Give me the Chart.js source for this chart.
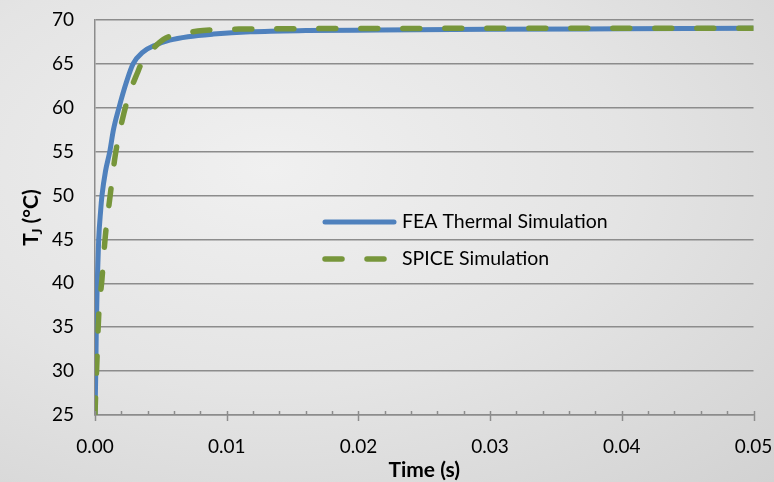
<!DOCTYPE html>
<html>
<head>
<meta charset="utf-8">
<script src="https://cdn.jsdelivr.net/npm/chart.js@4.4.1/dist/chart.umd.min.js"></script>
<style>
  html, body { margin: 0; padding: 0; }
  body {
    width: 774px; height: 482px; overflow: hidden;
    background: radial-gradient(ellipse farthest-corner at 35% 35%, #f0f0f0 0%, #e4e4e4 50%, #d2d2d2 100%);
  }
  #wrap { position: relative; width: 774px; height: 482px; }
</style>
</head>
<body>
<div id="wrap"><canvas id="chart"></canvas></div>
<script>
  // values (time in s, temperature in °C)
  const feaTime = [0, 0.00006, 0.0001, 0.00017, 0.00028, 0.00043, 0.00053, 0.0008, 0.00112, 0.0014, 0.00182, 0.00238, 0.00289, 0.00364, 0.00453, 0.00567, 0.00706, 0.009, 0.0118, 0.016, 0.0216, 0.03, 0.04, 0.05];
  const feaTemp = [25, 30, 35, 40, 45, 48.3, 50, 52.8, 55, 57.5, 60, 62.9, 65, 66.35, 67.1, 67.7, 68.1, 68.4, 68.66, 68.8, 68.86, 68.95, 69.0, 69.05];

  const spiceTime = [0, 0.00003, 0.00015, 0.00028, 0.00053, 0.00078, 0.00116, 0.00154, 0.0021, 0.00265, 0.0032, 0.0036, 0.0042, 0.0052, 0.0065, 0.0082, 0.0114, 0.02, 0.03, 0.05];
  const spiceTemp = [25, 26.5, 31.3, 36.3, 40.5, 45.3, 50.1, 54.6, 58.8, 61.8, 63.9, 65.3, 66.4, 67.8, 68.4, 68.8, 68.97, 69.03, 69.05, 69.05];

  const seriesNames = ["FEA Thermal Simulation", "SPICE Simulation"];
  const xMajor = [0, 0.01, 0.02, 0.03, 0.04, 0.05];
  const yTicks = [25, 30, 35, 40, 45, 50, 55, 60, 65, 70];

  const FONT = "Lato, 'Open Sans', sans-serif";
  const AXIS_GRAY = "#8c8c8c";
  const BLUE = "#4f81bd";
  const GREEN = "#77963b";

  function pts(xs, ys) { return xs.map((x, i) => ({ x: x, y: ys[i] })); }
  function isMajor(v) { return xMajor.some(m => Math.abs(m - v) < 1e-7); }

  /* ========= tick marks on the time axis (major cross, minor inside) ========= */
  const xTickMarks = {
    id: "xTickMarks",
    afterDraw(chart) {
      const sx = chart.scales.x;
      const ctx = chart.ctx;
      const y0 = chart.chartArea.bottom;
      ctx.save();
      ctx.strokeStyle = AXIS_GRAY;
      ctx.lineWidth = 1.5;
      sx.ticks.forEach(t => {
        const px = Math.round(sx.getPixelForValue(t.value)) + 0.5;
        ctx.beginPath();
        ctx.moveTo(px, y0 - 4);
        ctx.lineTo(px, isMajor(t.value) ? y0 + 6 : y0);
        ctx.stroke();
      });
      ctx.restore();
    }
  };

  /* ========= y title with subscript J ========= */
  const yTitle = {
    id: "yTitle",
    afterDraw(chart) {
      const ctx = chart.ctx;
      const ca = chart.chartArea;
      const big = "bold 21px " + FONT;
      const small = "bold 14px " + FONT;
      ctx.save();
      ctx.font = big;
      const wT = ctx.measureText("T").width - 1.5;
      const wRest = ctx.measureText(" (°C)").width;
      ctx.font = small;
      const wJ = ctx.measureText("J").width;
      const total = wT + wJ + wRest;
      ctx.translate(31, (ca.top + ca.bottom) / 2);
      ctx.rotate(-Math.PI / 2);
      ctx.fillStyle = "#000";
      ctx.textBaseline = "alphabetic";
      let x = -total / 2;
      ctx.font = big;
      ctx.fillText("T", x, 7);
      x += wT;
      ctx.font = small;
      ctx.fillText("J", x, 11);
      x += wJ;
      ctx.font = big;
      ctx.fillText(" (°C)", x, 7);
      ctx.restore();
    }
  };

  /* ========= legend inside the plot ========= */
  const innerLegend = {
    id: "innerLegend",
    afterDraw(chart) {
      const ctx = chart.ctx;
      const rows = [
        { ds: chart.data.datasets[0], y: 222 },
        { ds: chart.data.datasets[1], y: 259 }
      ];
      ctx.save();
      ctx.font = "19.5px " + FONT;
      ctx.textBaseline = "middle";
      ctx.fillStyle = "#000";
      rows.forEach(r => {
        ctx.strokeStyle = r.ds.borderColor;
        ctx.lineWidth = r.ds.borderWidth;
        ctx.lineCap = "round";
        ctx.setLineDash(r.ds.borderDash || []);
        ctx.beginPath();
        ctx.moveTo(325, r.y);
        ctx.lineTo(394, r.y);
        ctx.stroke();
        ctx.setLineDash([]);
        ctx.fillText(r.ds.label, 402, r.y);
      });
      ctx.restore();
    }
  };

  new Chart(document.getElementById("chart"), {
    type: "scatter",
    data: {
      datasets: [
        {
          label: seriesNames[0],
          data: pts(feaTime, feaTemp),
          showLine: true,
          borderColor: BLUE,
          backgroundColor: BLUE,
          borderWidth: 5,
          pointRadius: 0,
          cubicInterpolationMode: "monotone",
          order: 1
        },
        {
          label: seriesNames[1],
          data: pts(spiceTime, spiceTemp),
          showLine: true,
          borderColor: GREEN,
          backgroundColor: GREEN,
          borderWidth: 5.5,
          borderDash: [17, 25],
          borderCapStyle: "round",
          pointRadius: 0,
          cubicInterpolationMode: "monotone",
          order: 0
        }
      ]
    },
    options: {
      responsive: true,
      maintainAspectRatio: false,
      animation: false,
      layout: { padding: { top: 20, right: 20.5, left: 0, bottom: 0 } },
      plugins: { legend: { display: false }, tooltip: { enabled: false } },
      scales: {
        x: {
          type: "linear",
          min: 0,
          max: 0.05,
          afterBuildTicks(scale) {
            // major every 0.01, minor every 0.002
            const t = [];
            for (let i = 0; i <= 25; i++) t.push({ value: Math.round(i * 2) / 1000 });
            scale.ticks = t;
          },
          afterFit(scale) {
            scale.height = 67;
            scale.paddingLeft = 0;
            scale.paddingRight = 0;
          },
          grid: { display: false, drawTicks: false },
          border: { display: true, color: AXIS_GRAY, width: 1.5 },
          ticks: {
            autoSkip: false,
            maxRotation: 0,
            padding: 20,
            color: "#000",
            font: { family: FONT, size: 19 },
            callback: (v) => isMajor(v) ? Number(v).toFixed(2) : ""
          },
          title: {
            display: true,
            text: "Time (s)",
            color: "#000",
            font: { family: FONT, size: 21, weight: "bold" },
            padding: { top: 0, bottom: -1 }
          }
        },
        y: {
          min: 25,
          max: 70,
          afterBuildTicks(scale) { scale.ticks = yTicks.map(v => ({ value: v })); },
          afterFit(scale) {
            scale.width = 95;
            scale.paddingTop = 0;
            scale.paddingBottom = 0;
          },
          grid: { color: AXIS_GRAY, lineWidth: 1.5, drawTicks: false },
          border: { display: true, color: AXIS_GRAY, width: 1.5 },
          ticks: {
            padding: 21,
            color: "#000",
            font: { family: FONT, size: 19 }
          }
        }
      }
    },
    plugins: [xTickMarks, yTitle, innerLegend]
  });
</script>
</body>
</html>
